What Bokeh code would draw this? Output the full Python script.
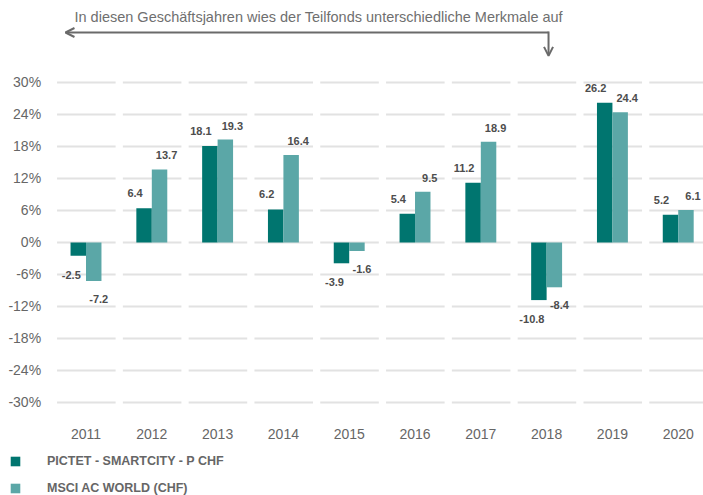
import numpy as np
from bokeh.plotting import figure
from bokeh.models import (Range1d, FixedTicker, Legend, LegendItem, Label, Arrow,
                          OpenHead, ColumnDataSource)
from bokeh.embed import file_html
from bokeh.resources import INLINE

years = ["2011", "2012", "2013", "2014", "2015", "2016", "2017", "2018", "2019", "2020"]
fund = [-2.5, 6.4, 18.1, 6.2, -3.9, 5.4, 11.2, -10.8, 26.2, 5.2]
index_vals = [-7.2, 13.7, 19.3, 16.4, -1.6, 9.5, 18.9, -8.4, 24.4, 6.1]
y_ticks = [-30, -24, -18, -12, -6, 0, 6, 12, 18, 24, 30]
fund_name = "PICTET - SMARTCITY - P CHF"
index_name = "MSCI AC WORLD (CHF)"
note = "In diesen Geschäftsjahren wies der Teilfonds unterschiedliche Merkmale auf"

DARK = "#00756f"
LIGHT = "#5ba7a7"
FONT = "Liberation Sans"

idx = np.arange(len(years), dtype=float)
bw = 0.235

p = figure(width=703, height=495, output_backend="svg", toolbar_location=None,
           x_range=Range1d(-1.2994, 9.384), y_range=Range1d(-47.44, 45.375),
           min_border=0, title=None)
p.outline_line_color = None
p.xgrid.visible = False
p.ygrid.visible = False

# segmented gridlines per category
gx0, gx1, gy = [], [], []
for i in idx:
    for t in y_ticks:
        gx0.append(i - 0.44)
        gx1.append(i + 0.45)
        gy.append(t)
p.segment(x0=gx0, y0=gy, x1=gx1, y1=gy, line_color="#e2e2e2", line_width=2.2)

src_f = ColumnDataSource(dict(
    x=idx - bw / 2, top=fund,
    lbl=[f"{v:.1f}" for v in fund],
    xo=[-9 if v >= 0 else -7 for v in fund],
    yo=[-15 if v >= 0 else 19 for v in fund]))
src_i = ColumnDataSource(dict(
    x=idx + bw / 2, top=index_vals,
    lbl=[f"{v:.1f}" for v in index_vals],
    xo=[7 if v >= 0 else 5 for v in index_vals],
    yo=[-14 if v >= 0 else 18 for v in index_vals]))

r1 = p.vbar(x="x", top="top", bottom=0, width=bw, source=src_f,
            fill_color=DARK, line_color=None)
r2 = p.vbar(x="x", top="top", bottom=0, width=bw, source=src_i,
            fill_color=LIGHT, line_color=None)

for s in (src_f, src_i):
    p.text(x="x", y="top", text="lbl", x_offset="xo", y_offset="yo", source=s,
           text_align="center", text_baseline="middle",
           text_font_size="11px", text_font_style="bold",
           text_color="#4d4d4d", text_font={"value": FONT})

# axes (drawn inside the frame at fixed positions)
p.yaxis.fixed_location = -0.5
p.yaxis.ticker = FixedTicker(ticks=y_ticks)
p.yaxis.major_label_overrides = {t: f"{t}%" for t in y_ticks}
p.yaxis.axis_line_color = None
p.yaxis.major_tick_line_color = None
p.yaxis.minor_tick_line_color = None
p.yaxis.major_label_standoff = 6
p.yaxis.major_label_text_font_size = "14px"
p.yaxis.major_label_text_color = "#666666"
p.yaxis.major_label_text_font = FONT

p.xaxis.fixed_location = -33.0
p.xaxis.ticker = FixedTicker(ticks=list(idx))
p.xaxis.major_label_overrides = {int(i): y for i, y in zip(idx, years)}
p.xaxis.axis_line_color = None
p.xaxis.major_tick_line_color = None
p.xaxis.minor_tick_line_color = None
p.xaxis.major_label_standoff = 5
p.xaxis.major_label_text_font_size = "14px"
p.xaxis.major_label_text_color = "#666666"
p.xaxis.major_label_text_font = FONT

# note with arrow
p.add_layout(Label(x=-0.175, y=42.2, text=note, text_font_size="14.5px",
                   text_color="#6f6f6f", text_font=FONT,
                   text_baseline="middle", text_align="left"))
p.add_layout(Arrow(x_start=7.029, y_start=39.375, x_end=-0.312, y_end=39.375,
                   line_color="#6a6a6a", line_width=2,
                   end=OpenHead(size=9, line_color="#6a6a6a", line_width=2)))
p.add_layout(Arrow(x_start=7.029, y_start=39.56, x_end=7.029, y_end=35.0,
                   line_color="#6a6a6a", line_width=2,
                   end=OpenHead(size=9, line_color="#6a6a6a", line_width=2)))

legend = Legend(items=[LegendItem(label=fund_name, renderers=[r1]),
                       LegendItem(label=index_name, renderers=[r2])],
                location=(9, 0), orientation="vertical",
                glyph_width=12, glyph_height=12, label_height=12,
                label_standoff=26, spacing=13, padding=0, margin=0,
                border_line_color=None, background_fill_alpha=0,
                label_text_font_size="12.5px", label_text_font_style="bold",
                label_text_color="#666666", label_text_font=FONT)
p.add_layout(legend)

open("out.html", "w").write(file_html(p, INLINE))
